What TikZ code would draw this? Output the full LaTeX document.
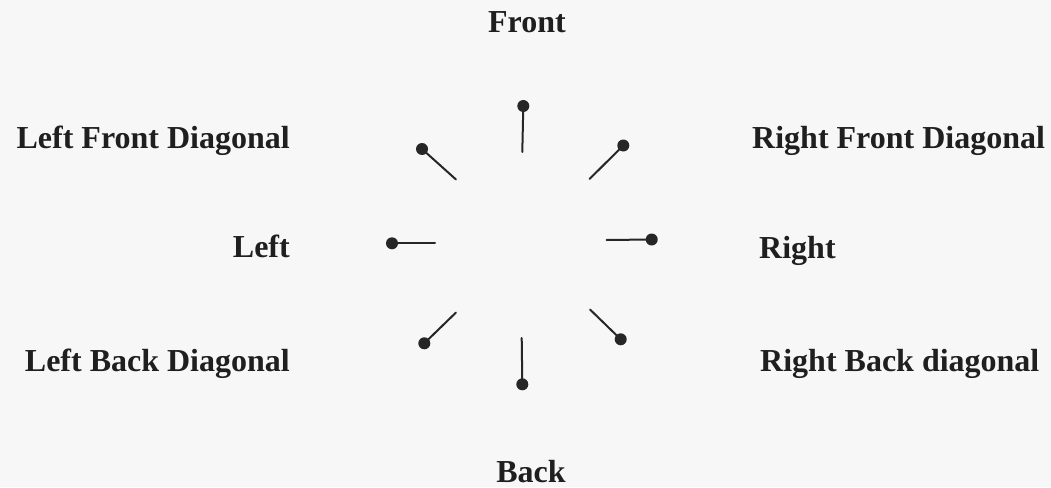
\documentclass[tikz,border=0pt]{standalone}
\usepackage{fontspec}
\setmainfont{Liberation Serif}
\begin{document}
\begin{tikzpicture}[x=1pt,y=-1pt,
  lbl/.style={font=\bfseries\fontsize{32}{32}\selectfont, text=black!88, inner sep=0pt},
  pindot/.style={circle, fill=black!85, minimum size=12pt, inner sep=0pt},
  pinline/.style={line width=2pt, draw=black!85, line cap=round}]
\fill[black!3] (0,0) rectangle (1051,487);
\useasboundingbox (0,0) rectangle (1051,487);
% labels
\node[lbl, anchor=base] (tF) at (527,33) {Front};
\node[lbl, anchor=base east] (tLF) at (290,148) {Left Front Diagonal};
\node[lbl, anchor=base west] (tRF) at (752,148) {Right Front Diagonal};
\node[lbl, anchor=base east] (tL) at (290,257) {Left};
\node[lbl, anchor=base west] (tR) at (759,258) {Right};
\node[lbl, anchor=base east] (tLB) at (290,371) {Left Back Diagonal};
\node[lbl, anchor=base west] (tRB) at (760,371) {Right Back diagonal};
\node[lbl, anchor=base] (tB) at (531,482) {Back};
% pins
\coordinate (eF) at (522.3,152);
\coordinate (eRF) at (589.5,179);
\coordinate (eLF) at (456,179.5);
\coordinate (eL) at (435,243.3);
\coordinate (eR) at (606.5,240);
\coordinate (eLB) at (456,312.5);
\coordinate (eB) at (521.7,338);
\coordinate (eRB) at (590,309.5);
\draw[pinline] (523.3,106) coordinate (pF) -- (eF);
\draw[pinline] (623.3,145.5) coordinate (pRF) -- (eRF);
\draw[pinline] (422,149) coordinate (pLF) -- (eLF);
\draw[pinline] (392,243.3) coordinate (pL) -- (eL);
\draw[pinline] (651.7,239.5) coordinate (pR) -- (eR);
\draw[pinline] (424.3,343.3) coordinate (pLB) -- (eLB);
\draw[pinline] (522.3,384.3) coordinate (pB) -- (eB);
\draw[pinline] (620.7,339.3) coordinate (pRB) -- (eRB);
\foreach \p in {pF,pRF,pLF,pL,pR,pLB,pB,pRB}
  \node[pindot] (d\p) at (\p) {};
\end{tikzpicture}
\end{document}
